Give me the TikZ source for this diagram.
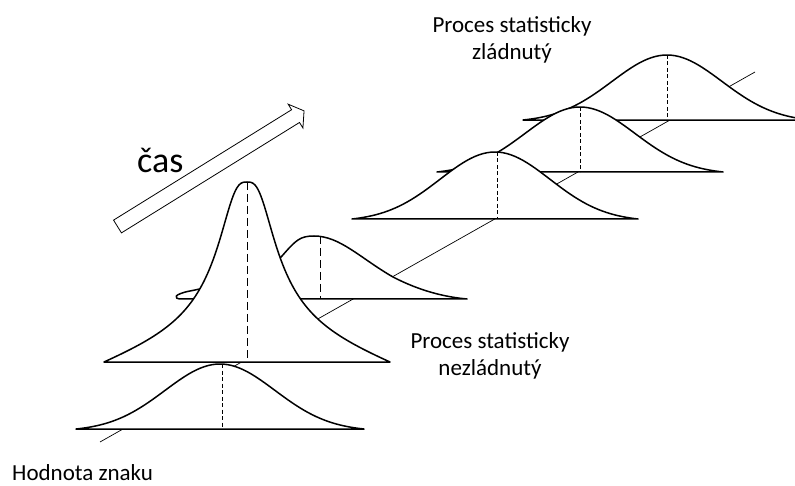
\documentclass[tikz,border=0pt]{standalone}
\usepackage{fontspec}
\setmainfont{Carlito}

\begin{document}
\begin{tikzpicture}[x=1pt, y=-1pt,
    curve/.style={draw, fill=white, line width=1.5pt, line join=round},
    midline/.style={line width=0.9pt, dash pattern=on 4pt off 2.5pt},
    longmid/.style={line width=0.9pt, dash pattern=on 8pt off 4pt},
    caption/.style={font=\fontsize{23}{27}\selectfont, align=center, inner sep=0pt}]
    \clip (0,0) rectangle (795,486);

    % time axis
    \coordinate (axisstart) at (100,442);
    \coordinate (axisend) at (755,72);
    \draw[line width=0.7pt] (axisstart) -- (axisend);

    % controlled process, back to front
    \draw[curve] plot[domain=-144:144, samples=73] ({667+\x}, {120-65*(exp(-0.5*(\x/55)^2)-0.0325)/0.9675}) -- cycle;
    \draw[midline] (667,55) -- (667,120);
    \draw[curve] plot[domain=-143:143, samples=73] ({580+\x}, {172-65*(exp(-0.5*(\x/55)^2)-0.0340)/0.9660}) -- cycle;
    \draw[midline] (580,107) -- (580,172);
    \draw[curve] plot[domain=-143:143, samples=73] ({495+\x}, {219-67*(exp(-0.5*(\x/55)^2)-0.0340)/0.9660}) -- cycle;
    \draw[midline] (497,152) -- (497,219);

    % uncontrolled process
    \draw[curve] (182,299) .. controls (172,299) and (174,294) .. (190,291)
        .. controls (215,286) and (265,275) .. (282,256)
        .. controls (296,240) and (300,236) .. (314,236)
        .. controls (340,236) and (360,258) .. (393,277)
        .. controls (420,291) and (445,297) .. (467,299) -- cycle;
    \draw[longmid] (320,236) -- (320,299);
    \draw[curve] plot[domain=-143:143, samples=145] ({247+\x},
        {362-180*(0.9*(exp(-ln(1+abs(\x/22)^3)/3)-0.1537)/0.8463+0.1*(1-(\x/143)^2))}) -- cycle;
    \draw[longmid] (247,182) -- (247,362);
    \draw[curve] plot[domain=-144:144, samples=73] ({220+\x}, {429-65*(exp(-0.5*(\x/55)^2)-0.0325)/0.9675}) -- cycle;
    \draw[midline] (222,364) -- (222,429);

    % time arrow
    \begin{scope}[shift={(117.5,226.5)}, rotate=31.8]
        \draw[line width=0.8pt, line join=miter] (0,-7.5) -- (209.5,-7.5) -- (209.5,-14) -- (219.5,0)
            -- (209.5,14) -- (209.5,7.5) -- (0,7.5) -- cycle;
    \end{scope}

    % labels
    \node[font=\fontsize{36}{43}\selectfont, anchor=base west, inner sep=0pt] (timelabel) at (137,173) {čas};
    \node[caption, anchor=base] (ctrltitle) at (512,60) {Proces statisticky\\zládnutý};
    \node[caption, anchor=base] (unctrltitle) at (490,375) {Proces statisticky\\nezládnutý};
    \node[caption, anchor=base west] (valuelabel) at (12,480) {Hodnota znaku};
\end{tikzpicture}
\end{document}
